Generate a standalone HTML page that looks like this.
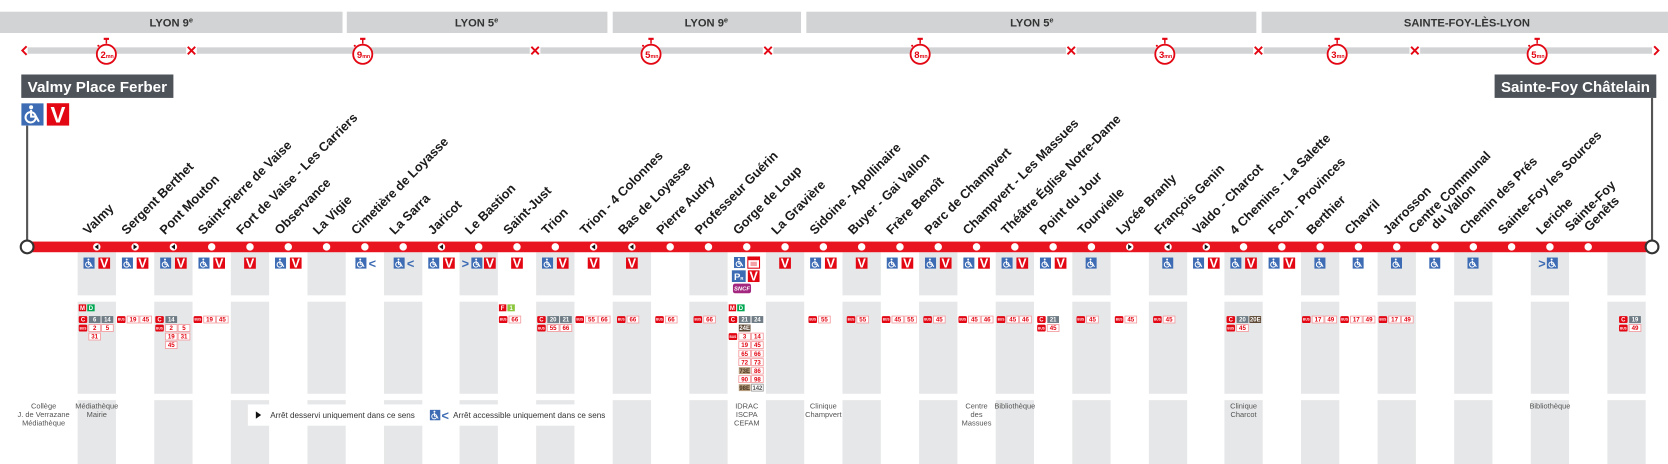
<!DOCTYPE html>
<html><head><meta charset="utf-8"><style>
html,body{margin:0;padding:0;background:#fff;}
svg{display:block;}
text{font-family:"Liberation Sans",sans-serif;}
.zt{font-size:10.5px;font-weight:bold;fill:#333;text-anchor:middle;}
.lb{font-size:12px;font-weight:bold;fill:#1a1a1a;}
.tw{font-size:5.6px;font-weight:bold;fill:#fff;text-anchor:middle;}
.tr{font-size:5.8px;font-weight:bold;fill:#e30613;text-anchor:middle;}
.tb{font-size:5.6px;font-weight:bold;fill:#4a3520;text-anchor:middle;}
.tg{font-size:5.6px;font-weight:bold;fill:#555;text-anchor:middle;}
.t3{font-size:3px;font-weight:bold;fill:#fff;text-anchor:middle;}
.nb{fill:#fff;stroke:#f39ca0;stroke-width:.8;}
.v{font-size:12px;font-weight:bold;fill:#fff;text-anchor:middle;}
.ch{font-size:12px;font-weight:bold;fill:#3d6cb4;}
.sm{font-size:7px;fill:#555;text-anchor:middle;}
.lg{font-size:7.4px;fill:#333;}
.sw{font-weight:bold;fill:#e30613;}
</style></head><body>
<svg width="1668" height="464" viewBox="0 0 1568 436" preserveAspectRatio="none" xmlns="http://www.w3.org/2000/svg">
<defs>
<symbol id="acc" viewBox="0 0 10 10"><rect width="10" height="10" fill="#3d6cb4"/><circle cx="4.2" cy="6.3" r="2.3" fill="none" stroke="#fff" stroke-width="0.9"/><circle cx="4.4" cy="1.8" r="0.9" fill="#fff"/><path d="M4.4 3v3h2.2l1.3 2.3" fill="none" stroke="#fff" stroke-width="0.9"/></symbol>
<g id="col"><rect y="237" width="36" height="40.5" fill="#e6e7e8"/><rect y="283.5" width="36" height="86.5" fill="#e6e7e8"/><rect y="376" width="36" height="60" fill="#e6e7e8"/></g>
<g id="swc"><circle r="9" fill="#fff" stroke="#e30613" stroke-width="1.7"/><rect x="-2.5" y="-15.5" width="5" height="2" fill="#e30613"/><rect x="-0.7" y="-14" width="1.4" height="4" fill="#e30613"/><circle cx="-7.5" cy="-8" r="1" fill="#e30613"/></g>
</defs>

<!-- zone bars -->
<rect x="0" y="11" width="322" height="20" fill="#d1d3d4"/>
<rect x="326" y="11" width="245" height="20" fill="#d1d3d4"/>
<rect x="576" y="11" width="177" height="20" fill="#d1d3d4"/>
<rect x="758" y="11" width="423" height="20" fill="#d1d3d4"/>
<rect x="1186" y="11" width="382" height="20" fill="#d1d3d4"/>
<text class="zt" x="161" y="25">LYON 9<tspan font-size="7" dy="-4">e</tspan></text>
<text class="zt" x="448" y="25">LYON 5<tspan font-size="7" dy="-4">e</tspan></text>
<text class="zt" x="664" y="25">LYON 9<tspan font-size="7" dy="-4">e</tspan></text>
<text class="zt" x="970" y="25">LYON 5<tspan font-size="7" dy="-4">e</tspan></text>
<text class="zt" x="1379" y="25">SAINTE-FOY-LÈS-LYON</text>

<!-- time bar -->
<rect x="26" y="44.5" width="1527" height="6" fill="#d1d3d4"/>
<g fill="#fff"><rect x="175" y="43" width="10" height="9"/><rect x="498" y="43" width="10" height="9"/><rect x="717" y="43" width="10" height="9"/><rect x="1002" y="43" width="10" height="9"/><rect x="1178" y="43" width="10" height="9"/><rect x="1325" y="43" width="10" height="9"/></g>
<g stroke="#e30613" stroke-width="1.8" fill="none">
<path d="M25 43.5l-4 4 4 4"/><path d="M1555 43.5l4 4-4 4"/>
<path d="M176.5 44l7 7M183.5 44l-7 7"/><path d="M499.5 44l7 7M506.5 44l-7 7"/><path d="M718.5 44l7 7M725.5 44l-7 7"/><path d="M1003.5 44l7 7M1010.5 44l-7 7"/><path d="M1179.5 44l7 7M1186.5 44l-7 7"/><path d="M1326.5 44l7 7M1333.5 44l-7 7"/>
</g>
<use href="#swc" x="100" y="51"/><use href="#swc" x="341" y="51"/><use href="#swc" x="612" y="51"/><use href="#swc" x="865" y="51"/><use href="#swc" x="1095" y="51"/><use href="#swc" x="1257" y="51"/><use href="#swc" x="1445" y="51"/>
<g class="sw"><text x="94.5" y="54.5" font-size="9">2<tspan font-size="5">mn</tspan></text>
<text x="335.5" y="54.5" font-size="9">9<tspan font-size="5">mn</tspan></text>
<text x="606.5" y="54.5" font-size="9">5<tspan font-size="5">mn</tspan></text>
<text x="859.5" y="54.5" font-size="9">8<tspan font-size="5">mn</tspan></text>
<text x="1089.5" y="54.5" font-size="9">3<tspan font-size="5">mn</tspan></text>
<text x="1251.5" y="54.5" font-size="9">3<tspan font-size="5">mn</tspan></text>
<text x="1439.5" y="54.5" font-size="9">5<tspan font-size="5">mn</tspan></text></g>

<!-- gray columns -->
<use href="#col" x="73"/><use href="#col" x="145"/><use href="#col" x="217"/><use href="#col" x="289"/><use href="#col" x="361"/><use href="#col" x="432"/><use href="#col" x="504"/><use href="#col" x="576"/><use href="#col" x="648"/><use href="#col" x="720"/><use href="#col" x="792"/><use href="#col" x="864"/><use href="#col" x="936"/><use href="#col" x="1008"/><use href="#col" x="1080"/><use href="#col" x="1151"/><use href="#col" x="1223"/><use href="#col" x="1295"/><use href="#col" x="1367"/><use href="#col" x="1439"/><use href="#col" x="1511"/>

<!-- termini -->
<rect x="20" y="70" width="143" height="22" fill="#4d5359"/>
<text x="26" y="86.5" font-size="14" font-weight="bold" fill="#fff" textLength="131" lengthAdjust="spacingAndGlyphs">Valmy Place Ferber</text>
<use href="#acc" x="20" y="97" width="21" height="21"/>
<rect x="44" y="97" width="21" height="21" fill="#e30613"/><text x="54.5" y="115" font-size="21" font-weight="bold" fill="#fff" text-anchor="middle">V</text>
<line x1="25.5" y1="118" x2="25.5" y2="228" stroke="#555" stroke-width="2"/>
<rect x="1405" y="70" width="152" height="22" fill="#4d5359"/>
<text x="1411" y="86.5" font-size="14" font-weight="bold" fill="#fff" textLength="140" lengthAdjust="spacingAndGlyphs">Sainte-Foy Châtelain</text>
<line x1="1553" y1="92" x2="1553" y2="228" stroke="#555" stroke-width="2"/>

<!-- main line -->
<rect x="25" y="227" width="1528" height="10" fill="#e8141f"/>
<circle cx="25.5" cy="232" r="6" fill="#fff" stroke="#333" stroke-width="2"/>
<circle cx="1553" cy="232" r="6" fill="#fff" stroke="#333" stroke-width="2"/>
<g fill="#fff">
<circle cx="91" cy="232" r="3.5"/><circle cx="127" cy="232" r="3.5"/><circle cx="163" cy="232" r="3.5"/><circle cx="199" cy="232" r="3.5"/><circle cx="235" cy="232" r="3.5"/><circle cx="271" cy="232" r="3.5"/><circle cx="307" cy="232" r="3.5"/><circle cx="343" cy="232" r="3.5"/><circle cx="379" cy="232" r="3.5"/><circle cx="415" cy="232" r="3.5"/><circle cx="450" cy="232" r="3.5"/><circle cx="486" cy="232" r="3.5"/><circle cx="522" cy="232" r="3.5"/><circle cx="558" cy="232" r="3.5"/><circle cx="594" cy="232" r="3.5"/><circle cx="630" cy="232" r="3.5"/><circle cx="666" cy="232" r="3.5"/><circle cx="702" cy="232" r="3.5"/><circle cx="738" cy="232" r="3.5"/><circle cx="774" cy="232" r="3.5"/><circle cx="810" cy="232" r="3.5"/><circle cx="846" cy="232" r="3.5"/><circle cx="882" cy="232" r="3.5"/><circle cx="918" cy="232" r="3.5"/><circle cx="954" cy="232" r="3.5"/><circle cx="990" cy="232" r="3.5"/><circle cx="1026" cy="232" r="3.5"/><circle cx="1062" cy="232" r="3.5"/><circle cx="1098" cy="232" r="3.5"/><circle cx="1134" cy="232" r="3.5"/><circle cx="1169" cy="232" r="3.5"/><circle cx="1205" cy="232" r="3.5"/><circle cx="1241" cy="232" r="3.5"/><circle cx="1277" cy="232" r="3.5"/><circle cx="1313" cy="232" r="3.5"/><circle cx="1349" cy="232" r="3.5"/><circle cx="1385" cy="232" r="3.5"/><circle cx="1421" cy="232" r="3.5"/><circle cx="1457" cy="232" r="3.5"/><circle cx="1493" cy="232" r="3.5"/>
</g>
<g fill="#111">
<path d="M92.5 229.5L89 232l3.5 2.5z"/><path d="M164.5 229.5L161 232l3.5 2.5z"/><path d="M416.5 229.5L413 232l3.5 2.5z"/><path d="M559.5 229.5L556 232l3.5 2.5z"/><path d="M595.5 229.5L592 232l3.5 2.5z"/><path d="M1099.5 229.5L1096 232l3.5 2.5z"/>
<path d="M125.5 229.5L129 232l-3.5 2.5z"/><path d="M1060.5 229.5L1064 232l-3.5 2.5z"/><path d="M1132.5 229.5L1136 232l-3.5 2.5z"/>
</g>

<!-- stop labels -->
<text class="lb" transform="translate(83,221) rotate(-45)">Valmy</text>
<text class="lb" transform="translate(119,221) rotate(-45)">Sergent Berthet</text>
<text class="lb" transform="translate(155,221) rotate(-45)">Pont Mouton</text>
<text class="lb" transform="translate(191,221) rotate(-45)">Saint-Pierre de Vaise</text>
<text class="lb" transform="translate(227,221) rotate(-45)">Fort de Vaise - Les Carriers</text>
<text class="lb" transform="translate(263,221) rotate(-45)">Observance</text>
<text class="lb" transform="translate(299,221) rotate(-45)">La Vigie</text>
<text class="lb" transform="translate(335,221) rotate(-45)">Cimetière de Loyasse</text>
<text class="lb" transform="translate(371,221) rotate(-45)">La Sarra</text>
<text class="lb" transform="translate(407,221) rotate(-45)">Jaricot</text>
<text class="lb" transform="translate(442,221) rotate(-45)">Le Bastion</text>
<text class="lb" transform="translate(478,221) rotate(-45)">Saint-Just</text>
<text class="lb" transform="translate(514,221) rotate(-45)">Trion</text>
<text class="lb" transform="translate(550,221) rotate(-45)">Trion - 4 Colonnes</text>
<text class="lb" transform="translate(586,221) rotate(-45)">Bas de Loyasse</text>
<text class="lb" transform="translate(622,221) rotate(-45)">Pierre Audry</text>
<text class="lb" transform="translate(658,221) rotate(-45)">Professeur Guérin</text>
<text class="lb" transform="translate(694,221) rotate(-45)">Gorge de Loup</text>
<text class="lb" transform="translate(730,221) rotate(-45)">La Gravière</text>
<text class="lb" transform="translate(766,221) rotate(-45)">Sidoine - Apollinaire</text>
<text class="lb" transform="translate(802,221) rotate(-45)">Buyer - Gai Vallon</text>
<text class="lb" transform="translate(838,221) rotate(-45)">Frère Benoît</text>
<text class="lb" transform="translate(874,221) rotate(-45)">Parc de Champvert</text>
<text class="lb" transform="translate(910,221) rotate(-45)">Champvert - Les Massues</text>
<text class="lb" transform="translate(946,221) rotate(-45)">Théâtre Église Notre-Dame</text>
<text class="lb" transform="translate(982,221) rotate(-45)">Point du Jour</text>
<text class="lb" transform="translate(1018,221) rotate(-45)">Tourvielle</text>
<text class="lb" transform="translate(1054,221) rotate(-45)">Lycée Branly</text>
<text class="lb" transform="translate(1090,221) rotate(-45)">François Genin</text>
<text class="lb" transform="translate(1126,221) rotate(-45)">Valdo - Charcot</text>
<text class="lb" transform="translate(1161,221) rotate(-45)">4 Chemins - La Salette</text>
<text class="lb" transform="translate(1197,221) rotate(-45)">Foch - Provinces</text>
<text class="lb" transform="translate(1233,221) rotate(-45)">Berthier</text>
<text class="lb" transform="translate(1269,221) rotate(-45)">Chavril</text>
<text class="lb" transform="translate(1305,221) rotate(-45)">Jarrosson</text>
<text class="lb" transform="translate(1329,220) rotate(-45)">Centre Communal</text>
<text class="lb" transform="translate(1350,216) rotate(-45)">du Vallon</text>
<text class="lb" transform="translate(1377,221) rotate(-45)">Chemin des Prés</text>
<text class="lb" transform="translate(1413,221) rotate(-45)">Sainte-Foy les Sources</text>
<text class="lb" transform="translate(1449,221) rotate(-45)">Leriche</text>
<text class="lb" transform="translate(1476,218) rotate(-45)">Sainte-Foy</text>
<text class="lb" transform="translate(1494,218) rotate(-45)">Genêts</text>

<!-- block 1 icons -->
<g id="icons">
<use href="#acc" x="78.5" y="242" width="10.5" height="10.5"/><rect x="92.5" y="242" width="11" height="10.5" fill="#e30613"/><text class="v" x="98" y="251.5">V</text>
<use href="#acc" x="114.5" y="242" width="10.5" height="10.5"/><rect x="128.5" y="242" width="11" height="10.5" fill="#e30613"/><text class="v" x="134" y="251.5">V</text>
<use href="#acc" x="150.5" y="242" width="10.5" height="10.5"/><rect x="164.5" y="242" width="11" height="10.5" fill="#e30613"/><text class="v" x="170" y="251.5">V</text>
<use href="#acc" x="186.5" y="242" width="10.5" height="10.5"/><rect x="200.5" y="242" width="11" height="10.5" fill="#e30613"/><text class="v" x="206" y="251.5">V</text>
<rect x="229.5" y="242" width="11" height="10.5" fill="#e30613"/><text class="v" x="235" y="251.5">V</text>
<use href="#acc" x="258.5" y="242" width="10.5" height="10.5"/><rect x="272.5" y="242" width="11" height="10.5" fill="#e30613"/><text class="v" x="278" y="251.5">V</text>
<use href="#acc" x="334" y="242" width="10.5" height="10.5"/><text class="ch" x="346.5" y="252">&lt;</text>
<use href="#acc" x="370" y="242" width="10.5" height="10.5"/><text class="ch" x="382.5" y="252">&lt;</text>
<use href="#acc" x="402.5" y="242" width="10.5" height="10.5"/><rect x="416.5" y="242" width="11" height="10.5" fill="#e30613"/><text class="v" x="422" y="251.5">V</text>
<text class="ch" x="434" y="252">&gt;</text><use href="#acc" x="443" y="242" width="10.5" height="10.5"/><rect x="455" y="242" width="11" height="10.5" fill="#e30613"/><text class="v" x="460.5" y="251.5">V</text>
<rect x="480.5" y="242" width="11" height="10.5" fill="#e30613"/><text class="v" x="486" y="251.5">V</text>
<use href="#acc" x="509.5" y="242" width="10.5" height="10.5"/><rect x="523.5" y="242" width="11" height="10.5" fill="#e30613"/><text class="v" x="529" y="251.5">V</text>
<rect x="552.5" y="242" width="11" height="10.5" fill="#e30613"/><text class="v" x="558" y="251.5">V</text>
<rect x="588.5" y="242" width="11" height="10.5" fill="#e30613"/><text class="v" x="594" y="251.5">V</text>
<!-- Gorge de Loup -->
<use href="#acc" x="690" y="241.5" width="10.5" height="10.5"/>
<rect x="703" y="241.5" width="11" height="10.5" fill="#fff" stroke="#e30613" stroke-width="1"/><rect x="703" y="241.5" width="11" height="3" fill="#e30613"/><rect x="705.5" y="246" width="6" height="4" fill="#f4a0a4"/>
<rect x="688" y="254" width="13" height="11" fill="#3d6cb4"/><text x="690" y="263" font-size="9" font-weight="bold" fill="#fff">P<tspan font-size="4">R</tspan></text>
<rect x="703" y="254" width="11" height="11" fill="#e30613"/><text class="v" x="708.5" y="263.5">V</text>
<rect x="689" y="266.5" width="17" height="9" rx="2" fill="#a3267f"/><text x="697.5" y="273" font-size="5.5" font-style="italic" font-weight="bold" fill="#fff" text-anchor="middle">SNCF</text>
<rect x="732.5" y="242" width="11" height="10.5" fill="#e30613"/><text class="v" x="738" y="251.5">V</text>
<use href="#acc" x="761.5" y="242" width="10.5" height="10.5"/><rect x="775.5" y="242" width="11" height="10.5" fill="#e30613"/><text class="v" x="781" y="251.5">V</text>
<rect x="804.5" y="242" width="11" height="10.5" fill="#e30613"/><text class="v" x="810" y="251.5">V</text>
<use href="#acc" x="833.5" y="242" width="10.5" height="10.5"/><rect x="847.5" y="242" width="11" height="10.5" fill="#e30613"/><text class="v" x="853" y="251.5">V</text>
<use href="#acc" x="869.5" y="242" width="10.5" height="10.5"/><rect x="883.5" y="242" width="11" height="10.5" fill="#e30613"/><text class="v" x="889" y="251.5">V</text>
<use href="#acc" x="905.5" y="242" width="10.5" height="10.5"/><rect x="919.5" y="242" width="11" height="10.5" fill="#e30613"/><text class="v" x="925" y="251.5">V</text>
<use href="#acc" x="941.5" y="242" width="10.5" height="10.5"/><rect x="955.5" y="242" width="11" height="10.5" fill="#e30613"/><text class="v" x="961" y="251.5">V</text>
<use href="#acc" x="977.5" y="242" width="10.5" height="10.5"/><rect x="991.5" y="242" width="11" height="10.5" fill="#e30613"/><text class="v" x="997" y="251.5">V</text>
<use href="#acc" x="1020.5" y="242" width="10.5" height="10.5"/>
<use href="#acc" x="1092.5" y="242" width="10.5" height="10.5"/>
<use href="#acc" x="1121.5" y="242" width="10.5" height="10.5"/><rect x="1135.5" y="242" width="11" height="10.5" fill="#e30613"/><text class="v" x="1141" y="251.5">V</text>
<use href="#acc" x="1156.5" y="242" width="10.5" height="10.5"/><rect x="1170.5" y="242" width="11" height="10.5" fill="#e30613"/><text class="v" x="1176" y="251.5">V</text>
<use href="#acc" x="1192.5" y="242" width="10.5" height="10.5"/><rect x="1206.5" y="242" width="11" height="10.5" fill="#e30613"/><text class="v" x="1212" y="251.5">V</text>
<use href="#acc" x="1235.5" y="242" width="10.5" height="10.5"/>
<use href="#acc" x="1271.5" y="242" width="10.5" height="10.5"/>
<use href="#acc" x="1307.5" y="242" width="10.5" height="10.5"/>
<use href="#acc" x="1343.5" y="242" width="10.5" height="10.5"/>
<use href="#acc" x="1379.5" y="242" width="10.5" height="10.5"/>
<text class="ch" x="1446" y="252">&gt;</text><use href="#acc" x="1454" y="242" width="10.5" height="10.5"/>
</g>

<!-- block 2 badges -->
<!-- Valmy -->
<g transform="translate(74,286)"><rect width="7" height="6.5" fill="#e30613"/><text class="tw" x="3.5" y="5.3">M</text><rect x="8" width="7" height="6.5" fill="#00a651"/><text class="tw" x="11.5" y="5.3">D</text></g>
<g transform="translate(74,297)"><rect width="8" height="6.5" rx="1" fill="#e30613"/><text class="tw" x="4" y="5.3">C</text><rect x="9.5" width="11" height="6.5" fill="#6f7c85"/><text class="tw" x="15" y="5.3">6</text><rect x="21.5" width="11" height="6.5" fill="#6f7c85"/><text class="tw" x="27" y="5.3">14</text></g>
<g transform="translate(74,305)"><rect width="8" height="6.5" rx="1.2" fill="#e30613"/><text class="t3" x="4" y="4.4">BUS</text><rect class="nb" x="9.5" width="11" height="6.5"/><text class="tr" x="15" y="5.3">2</text><rect class="nb" x="21.5" width="11" height="6.5"/><text class="tr" x="27" y="5.3">5</text></g>
<g transform="translate(74,313)"><rect class="nb" x="9.5" width="11" height="6.5"/><text class="tr" x="15" y="5.3">31</text></g>
<!-- Sergent Berthet -->
<g transform="translate(110,297)"><rect width="8" height="6.5" rx="1.2" fill="#e30613"/><text class="t3" x="4" y="4.4">BUS</text><rect class="nb" x="9.5" width="11" height="6.5"/><text class="tr" x="15" y="5.3">19</text><rect class="nb" x="21.5" width="11" height="6.5"/><text class="tr" x="27" y="5.3">45</text></g>
<!-- Pont Mouton -->
<g transform="translate(146,297)"><rect width="8" height="6.5" rx="1" fill="#e30613"/><text class="tw" x="4" y="5.3">C</text><rect x="9.5" width="11" height="6.5" fill="#6f7c85"/><text class="tw" x="15" y="5.3">14</text></g>
<g transform="translate(146,305)"><rect width="8" height="6.5" rx="1.2" fill="#e30613"/><text class="t3" x="4" y="4.4">BUS</text><rect class="nb" x="9.5" width="11" height="6.5"/><text class="tr" x="15" y="5.3">2</text><rect class="nb" x="21.5" width="11" height="6.5"/><text class="tr" x="27" y="5.3">5</text></g>
<g transform="translate(146,313)"><rect class="nb" x="9.5" width="11" height="6.5"/><text class="tr" x="15" y="5.3">19</text><rect class="nb" x="21.5" width="11" height="6.5"/><text class="tr" x="27" y="5.3">31</text></g>
<g transform="translate(146,321)"><rect class="nb" x="9.5" width="11" height="6.5"/><text class="tr" x="15" y="5.3">45</text></g>
<!-- SPV -->
<g transform="translate(182,297)"><rect width="8" height="6.5" rx="1.2" fill="#e30613"/><text class="t3" x="4" y="4.4">BUS</text><rect class="nb" x="9.5" width="11" height="6.5"/><text class="tr" x="15" y="5.3">19</text><rect class="nb" x="21.5" width="11" height="6.5"/><text class="tr" x="27" y="5.3">45</text></g>
<!-- Saint-Just -->
<g transform="translate(469,286)"><rect width="7" height="6.5" fill="#e30613"/><text class="tw" x="3.5" y="5.3">F</text><rect x="8" width="7" height="6.5" fill="#8dc63f"/><text class="tw" x="11.5" y="5.3">1</text></g>
<g transform="translate(469,297)"><rect width="8" height="6.5" rx="1.2" fill="#e30613"/><text class="t3" x="4" y="4.4">BUS</text><rect class="nb" x="9.5" width="11" height="6.5"/><text class="tr" x="15" y="5.3">66</text></g>
<!-- Trion -->
<g transform="translate(505,297)"><rect width="8" height="6.5" rx="1" fill="#e30613"/><text class="tw" x="4" y="5.3">C</text><rect x="9.5" width="11" height="6.5" fill="#6f7c85"/><text class="tw" x="15" y="5.3">20</text><rect x="21.5" width="11" height="6.5" fill="#6f7c85"/><text class="tw" x="27" y="5.3">21</text></g>
<g transform="translate(505,305)"><rect width="8" height="6.5" rx="1.2" fill="#e30613"/><text class="t3" x="4" y="4.4">BUS</text><rect class="nb" x="9.5" width="11" height="6.5"/><text class="tr" x="15" y="5.3">55</text><rect class="nb" x="21.5" width="11" height="6.5"/><text class="tr" x="27" y="5.3">66</text></g>
<g transform="translate(541,297)"><rect width="8" height="6.5" rx="1.2" fill="#e30613"/><text class="t3" x="4" y="4.4">BUS</text><rect class="nb" x="9.5" width="11" height="6.5"/><text class="tr" x="15" y="5.3">55</text><rect class="nb" x="21.5" width="11" height="6.5"/><text class="tr" x="27" y="5.3">66</text></g>
<g transform="translate(580,297)"><rect width="8" height="6.5" rx="1.2" fill="#e30613"/><text class="t3" x="4" y="4.4">BUS</text><rect class="nb" x="9.5" width="11" height="6.5"/><text class="tr" x="15" y="5.3">66</text></g>
<g transform="translate(616,297)"><rect width="8" height="6.5" rx="1.2" fill="#e30613"/><text class="t3" x="4" y="4.4">BUS</text><rect class="nb" x="9.5" width="11" height="6.5"/><text class="tr" x="15" y="5.3">66</text></g>
<g transform="translate(652,297)"><rect width="8" height="6.5" rx="1.2" fill="#e30613"/><text class="t3" x="4" y="4.4">BUS</text><rect class="nb" x="9.5" width="11" height="6.5"/><text class="tr" x="15" y="5.3">66</text></g>
<!-- Gorge de Loup -->
<g transform="translate(685,286)"><rect width="7" height="6.5" fill="#e30613"/><text class="tw" x="3.5" y="5.3">M</text><rect x="8" width="7" height="6.5" fill="#00a651"/><text class="tw" x="11.5" y="5.3">D</text></g>
<g transform="translate(685,297)"><rect width="8" height="6.5" rx="1" fill="#e30613"/><text class="tw" x="4" y="5.3">C</text><rect x="9.5" width="11" height="6.5" fill="#6f7c85"/><text class="tw" x="15" y="5.3">21</text><rect x="21.5" width="11" height="6.5" fill="#6f7c85"/><text class="tw" x="27" y="5.3">24</text></g>
<g transform="translate(685,305)"><rect x="9.5" width="11" height="6.5" fill="#5b4632"/><text class="tw" x="15" y="5.3">24E</text></g>
<g transform="translate(685,313)"><rect width="8" height="6.5" rx="1.2" fill="#e30613"/><text class="t3" x="4" y="4.4">BUS</text><rect class="nb" x="9.5" width="11" height="6.5"/><text class="tr" x="15" y="5.3">3</text><rect class="nb" x="21.5" width="11" height="6.5"/><text class="tr" x="27" y="5.3">14</text></g>
<g transform="translate(685,321)"><rect class="nb" x="9.5" width="11" height="6.5"/><text class="tr" x="15" y="5.3">19</text><rect class="nb" x="21.5" width="11" height="6.5"/><text class="tr" x="27" y="5.3">45</text></g>
<g transform="translate(685,329)"><rect class="nb" x="9.5" width="11" height="6.5"/><text class="tr" x="15" y="5.3">65</text><rect class="nb" x="21.5" width="11" height="6.5"/><text class="tr" x="27" y="5.3">66</text></g>
<g transform="translate(685,337)"><rect class="nb" x="9.5" width="11" height="6.5"/><text class="tr" x="15" y="5.3">72</text><rect class="nb" x="21.5" width="11" height="6.5"/><text class="tr" x="27" y="5.3">73</text></g>
<g transform="translate(685,345)"><rect x="9.5" width="11" height="6.5" fill="#b49b7c"/><text class="tb" x="15" y="5.3">73E</text><rect class="nb" x="21.5" width="11" height="6.5"/><text class="tr" x="27" y="5.3">86</text></g>
<g transform="translate(685,353)"><rect class="nb" x="9.5" width="11" height="6.5"/><text class="tr" x="15" y="5.3">90</text><rect class="nb" x="21.5" width="11" height="6.5"/><text class="tr" x="27" y="5.3">98</text></g>
<g transform="translate(685,361)"><rect x="9.5" width="11" height="6.5" fill="#b49b7c"/><text class="tb" x="15" y="5.3">98E</text><rect x="21.5" width="11" height="6.5" fill="#fff" stroke="#999" stroke-width=".8"/><text class="tg" x="27" y="5.3">142</text></g>
<!-- others -->
<g transform="translate(760,297)"><rect width="8" height="6.5" rx="1.2" fill="#e30613"/><text class="t3" x="4" y="4.4">BUS</text><rect class="nb" x="9.5" width="11" height="6.5"/><text class="tr" x="15" y="5.3">55</text></g>
<g transform="translate(796,297)"><rect width="8" height="6.5" rx="1.2" fill="#e30613"/><text class="t3" x="4" y="4.4">BUS</text><rect class="nb" x="9.5" width="11" height="6.5"/><text class="tr" x="15" y="5.3">55</text></g>
<g transform="translate(829,297)"><rect width="8" height="6.5" rx="1.2" fill="#e30613"/><text class="t3" x="4" y="4.4">BUS</text><rect class="nb" x="9.5" width="11" height="6.5"/><text class="tr" x="15" y="5.3">45</text><rect class="nb" x="21.5" width="11" height="6.5"/><text class="tr" x="27" y="5.3">55</text></g>
<g transform="translate(868,297)"><rect width="8" height="6.5" rx="1.2" fill="#e30613"/><text class="t3" x="4" y="4.4">BUS</text><rect class="nb" x="9.5" width="11" height="6.5"/><text class="tr" x="15" y="5.3">45</text></g>
<g transform="translate(901,297)"><rect width="8" height="6.5" rx="1.2" fill="#e30613"/><text class="t3" x="4" y="4.4">BUS</text><rect class="nb" x="9.5" width="11" height="6.5"/><text class="tr" x="15" y="5.3">45</text><rect class="nb" x="21.5" width="11" height="6.5"/><text class="tr" x="27" y="5.3">46</text></g>
<g transform="translate(937,297)"><rect width="8" height="6.5" rx="1.2" fill="#e30613"/><text class="t3" x="4" y="4.4">BUS</text><rect class="nb" x="9.5" width="11" height="6.5"/><text class="tr" x="15" y="5.3">45</text><rect class="nb" x="21.5" width="11" height="6.5"/><text class="tr" x="27" y="5.3">46</text></g>
<g transform="translate(975,297)"><rect width="8" height="6.5" rx="1" fill="#e30613"/><text class="tw" x="4" y="5.3">C</text><rect x="9.5" width="11" height="6.5" fill="#6f7c85"/><text class="tw" x="15" y="5.3">21</text></g>
<g transform="translate(975,305)"><rect width="8" height="6.5" rx="1.2" fill="#e30613"/><text class="t3" x="4" y="4.4">BUS</text><rect class="nb" x="9.5" width="11" height="6.5"/><text class="tr" x="15" y="5.3">45</text></g>
<g transform="translate(1012,297)"><rect width="8" height="6.5" rx="1.2" fill="#e30613"/><text class="t3" x="4" y="4.4">BUS</text><rect class="nb" x="9.5" width="11" height="6.5"/><text class="tr" x="15" y="5.3">45</text></g>
<g transform="translate(1048,297)"><rect width="8" height="6.5" rx="1.2" fill="#e30613"/><text class="t3" x="4" y="4.4">BUS</text><rect class="nb" x="9.5" width="11" height="6.5"/><text class="tr" x="15" y="5.3">45</text></g>
<g transform="translate(1084,297)"><rect width="8" height="6.5" rx="1.2" fill="#e30613"/><text class="t3" x="4" y="4.4">BUS</text><rect class="nb" x="9.5" width="11" height="6.5"/><text class="tr" x="15" y="5.3">45</text></g>
<g transform="translate(1153,297)"><rect width="8" height="6.5" rx="1" fill="#e30613"/><text class="tw" x="4" y="5.3">C</text><rect x="9.5" width="11" height="6.5" fill="#6f7c85"/><text class="tw" x="15" y="5.3">20</text><rect x="21.5" width="11" height="6.5" fill="#5b4632"/><text class="tw" x="27" y="5.3">20E</text></g>
<g transform="translate(1153,305)"><rect width="8" height="6.5" rx="1.2" fill="#e30613"/><text class="t3" x="4" y="4.4">BUS</text><rect class="nb" x="9.5" width="11" height="6.5"/><text class="tr" x="15" y="5.3">45</text></g>
<g transform="translate(1224,297)"><rect width="8" height="6.5" rx="1.2" fill="#e30613"/><text class="t3" x="4" y="4.4">BUS</text><rect class="nb" x="9.5" width="11" height="6.5"/><text class="tr" x="15" y="5.3">17</text><rect class="nb" x="21.5" width="11" height="6.5"/><text class="tr" x="27" y="5.3">49</text></g>
<g transform="translate(1260,297)"><rect width="8" height="6.5" rx="1.2" fill="#e30613"/><text class="t3" x="4" y="4.4">BUS</text><rect class="nb" x="9.5" width="11" height="6.5"/><text class="tr" x="15" y="5.3">17</text><rect class="nb" x="21.5" width="11" height="6.5"/><text class="tr" x="27" y="5.3">49</text></g>
<g transform="translate(1296,297)"><rect width="8" height="6.5" rx="1.2" fill="#e30613"/><text class="t3" x="4" y="4.4">BUS</text><rect class="nb" x="9.5" width="11" height="6.5"/><text class="tr" x="15" y="5.3">17</text><rect class="nb" x="21.5" width="11" height="6.5"/><text class="tr" x="27" y="5.3">49</text></g>
<g transform="translate(1522,297)"><rect width="8" height="6.5" rx="1" fill="#e30613"/><text class="tw" x="4" y="5.3">C</text><rect x="9.5" width="11" height="6.5" fill="#6f7c85"/><text class="tw" x="15" y="5.3">19</text></g>
<g transform="translate(1522,305)"><rect width="8" height="6.5" rx="1.2" fill="#e30613"/><text class="t3" x="4" y="4.4">BUS</text><rect class="nb" x="9.5" width="11" height="6.5"/><text class="tr" x="15" y="5.3">49</text></g>

<!-- block 3 -->
<text class="sm" x="41" y="384"><tspan x="41">Collège</tspan><tspan x="41" dy="7.8">J. de Verrazane</tspan><tspan x="41" dy="7.8">Médiathèque</tspan></text>
<text class="sm" x="91" y="384"><tspan x="91">Médiathèque</tspan><tspan x="91" dy="7.8">Mairie</tspan></text>
<text class="sm" x="702" y="384"><tspan x="702">IDRAC</tspan><tspan x="702" dy="7.8">ISCPA</tspan><tspan x="702" dy="7.8">CEFAM</tspan></text>
<text class="sm" x="774" y="384"><tspan x="774">Clinique</tspan><tspan x="774" dy="7.8">Champvert</tspan></text>
<text class="sm" x="918" y="384"><tspan x="918">Centre</tspan><tspan x="918" dy="7.8">des</tspan><tspan x="918" dy="7.8">Massues</tspan></text>
<text class="sm" x="954" y="384">Bibliothèque</text>
<text class="sm" x="1169" y="384"><tspan x="1169">Clinique</tspan><tspan x="1169" dy="7.8">Charcot</tspan></text>
<text class="sm" x="1457" y="384">Bibliothèque</text>

<!-- legend -->
<rect x="233" y="380" width="342" height="20" fill="#fff"/>
<path d="M240.5 386.5l5 3.5-5 3.5z" fill="#111"/>
<text class="lg" x="254" y="393" textLength="136" lengthAdjust="spacingAndGlyphs">Arrêt desservi uniquement dans ce sens</text>
<use href="#acc" x="404" y="385" width="10" height="10"/>
<text class="ch" x="415" y="394.5" font-size="11">&lt;</text>
<text class="lg" x="426" y="393" textLength="143" lengthAdjust="spacingAndGlyphs">Arrêt accessible uniquement dans ce sens</text>
</svg>
</body></html>
